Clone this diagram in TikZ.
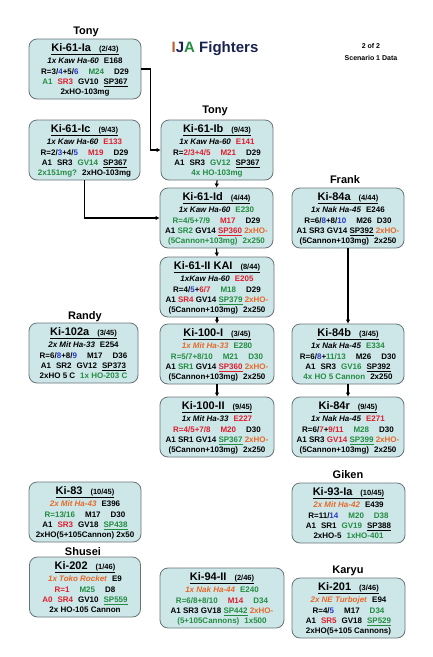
\documentclass[tikz,border=0pt]{standalone}
\usepackage{fontspec}
\setmainfont{Liberation Sans}
\usetikzlibrary{arrows.meta}
\definecolor{boxfill}{RGB}{205,231,233}
\definecolor{boxline}{RGB}{105,115,118}
\definecolor{kred}{RGB}{222,30,45}
\definecolor{kgreen}{RGB}{35,140,65}
\definecolor{kblue}{RGB}{40,55,200}
\definecolor{korange}{RGB}{230,105,40}
\definecolor{knavy}{RGB}{25,35,80}
\definecolor{kbrown}{RGB}{190,95,40}
\newcommand\tred[1]{\textcolor{kred}{#1}}
\newcommand\tgreen[1]{\textcolor{kgreen}{#1}}
\newcommand\tblue[1]{\textcolor{kblue}{#1}}
\newcommand\torange[1]{\textcolor{korange}{#1}}
\newcommand\uln[1]{\underline{#1}}
\newcommand\gp{\hspace{5pt}}
\newcommand\ktl[2]{\uln{#1\hspace{8pt}{\fontsize{7.5}{7.5}\selectfont #2}}}
\tikzset{
  kbox/.style={draw=boxline,fill=boxfill,rounded corners=8pt,line width=0.8pt,minimum height=60pt,inner sep=0pt},
  ktitle/.style={font=\fontsize{11}{11}\selectfont\bfseries,anchor=base,inner sep=0pt},
  kline/.style={font=\fontsize{8}{8}\selectfont\bfseries,anchor=base,inner sep=0pt},
  pilot/.style={font=\fontsize{11}{11}\selectfont\bfseries,anchor=base,inner sep=0pt},
  karrow/.style={draw=black,line width=1.2pt,-{Latex[length=4pt,width=4.5pt]}},
}
\newcommand\kibox[9]{%
  \node[kbox,minimum width=#4pt] (#1) at (#2,#3+30) {};
  \node[ktitle] (#1-t) at (#2,#3+12.6) {#5};
  \node[kline] (#1-a) at (#2,#3+24.6) {#6};
  \node[kline] (#1-b) at (#2,#3+35) {#7};
  \node[kline] (#1-c) at (#2,#3+45.3) {#8};
  \node[kline] (#1-d) at (#2,#3+55) {#9};
}
\begin{document}
\begin{tikzpicture}[x=1pt,y=-1pt]
\useasboundingbox (0,0) rectangle (432,657);

% headings
\node[font=\fontsize{15}{15}\selectfont\bfseries,anchor=base,inner sep=0pt] (head) at (215,52.5)
  {\textcolor{kbrown}{I}\textcolor{knavy}{J}\textcolor{kgreen}{A}\ \textcolor{knavy}{Fighters}};
\node[font=\fontsize{7}{7}\selectfont\bfseries,anchor=base,inner sep=0pt] (page) at (371,48) {2 of 2};
\node[font=\fontsize{7}{7}\selectfont\bfseries,anchor=base,inner sep=0pt] (scen) at (371,60) {Scenario 1 Data};

% pilots
\node[pilot] (p1) at (86,34) {Tony};
\node[pilot] (p2) at (215,113) {Tony};
\node[pilot] (p3) at (85,319) {Randy};
\node[pilot] (p4) at (345,183) {Frank};
\node[pilot] (p5) at (83,555) {Shusei};
\node[pilot] (p6) at (348,478) {Giken};
\node[pilot] (p7) at (348,573) {Karyu};

% boxes
\kibox{ki61ia}{85}{39}{112}{\ktl{Ki-61-Ia}{(2/43)}}
  {\textit{1x Kaw Ha-60}\gp E168}
  {R=3/\tblue{4}+5/\tblue{6}\gp\gp\tgreen{M24}\gp\gp D29}
  {\tgreen{A1}\gp\tred{SR3}\gp GV10\gp\uln{SP367}}
  {2xHO-103mg}

\kibox{ki61ic}{84.5}{120}{111}{\ktl{Ki-61-Ic}{(9/43)}}
  {\textit{1x Kaw Ha-60}\gp\tred{E133}}
  {R=2/\tblue{3}+4/\tblue{5}\gp\gp\tred{M19}\gp\gp D29}
  {A1\gp SR3\gp\tgreen{GV14}\gp\uln{SP367}}
  {\tgreen{2x151mg?}\gp 2xHO-103mg}

\kibox{ki61ib}{217}{120}{112}{\ktl{Ki-61-Ib}{(9/43)}}
  {\textit{1x Kaw Ha-60}\gp\tred{E141}}
  {R=\tred{2/3+4/5}\gp\gp\tred{M21}\gp\gp D29}
  {A1\gp SR3\gp\tgreen{GV12}\gp\uln{SP367}}
  {\tgreen{4x HO-103mg}}

\kibox{ki61id}{216.5}{188}{113}{\ktl{Ki-61-Id}{(4/44)}}
  {\textit{1x Kaw Ha-60}\gp\tgreen{E230}}
  {\tgreen{R=4/5+7/9}\gp\gp\tred{M17}\gp\gp D29}
  {A1 \tgreen{SR2} GV14 \tred{\uln{SP360}} \torange{2xHO-}}
  {\tgreen{(5Cannon+103mg)\gp 2x250}}

\kibox{ki61ii}{217}{257}{114}{\ktl{Ki-61-II KAI}{(8/44)}}
  {\textit{1xKaw Ha-60}\gp\tred{E205}}
  {R=4/\tblue{5}+\tred{6/7}\gp\gp\tgreen{M18}\gp\gp D29}
  {A1 \tred{SR4} GV14 \tgreen{\uln{SP379}} \torange{2xHO-}}
  {(5Cannon+103mg)\gp 2x250}

\kibox{ki100i}{217}{324}{114}{\ktl{Ki-100-I}{(3/45)}}
  {\torange{\textit{1x Mit Ha-33}}\gp\tgreen{E280}}
  {\tgreen{R=5/7+8/10\gp\gp M21\gp\gp D30}}
  {A1 \tgreen{SR1} GV14 \tred{\uln{SP360}} \torange{2xHO-}}
  {(5Cannon+103mg)\gp 2x250}

\kibox{ki100ii}{217}{397}{114}{\ktl{Ki-100-II}{(9/45)}}
  {\textit{1x Mit Ha-33}\gp\tred{E227}}
  {\tred{R=4/5+7/8\gp\gp M20}\gp\gp D30}
  {A1 SR1 GV14 \tgreen{\uln{SP367}} \torange{2xHO-}}
  {(5Cannon+103mg)\gp 2x250}

\kibox{ki102a}{83.5}{323}{109}{\ktl{Ki-102a}{(3/45)}}
  {\textit{2x Mit Ha-33}\gp E254}
  {R=6/\tblue{8}+8/\tblue{9}\gp\gp M17\gp\gp D36}
  {A1\gp SR2\gp GV12\gp\uln{SP373}}
  {2xHO 5 C\gp\tgreen{1x HO-203 C}}

\kibox{ki84a}{348}{188}{112}{\ktl{Ki-84a}{(4/44)}}
  {\textit{1x Nak Ha-45}\gp E246}
  {R=6/\tblue{8}+8/\tblue{10}\gp\gp M26\gp D30}
  {A1 SR3 GV14 \uln{SP392} \torange{2xHO-}}
  {(5Cannon+103mg)\gp 2x250}

\kibox{ki84b}{348}{324}{112}{\ktl{Ki-84b}{(3/45)}}
  {\textit{1x Nak Ha-45}\gp\tgreen{E334}}
  {R=6/\tblue{8}+\tgreen{11/13}\gp\gp M26\gp\gp D30}
  {A1\gp SR3\gp\tgreen{GV16}\gp\uln{SP392}}
  {\tgreen{4x HO 5 Cannon}\gp 2x250}

\kibox{ki84r}{348}{397}{112}{\ktl{Ki-84r}{(9/45)}}
  {\textit{1x Nak Ha-45}\gp\tred{E271}}
  {R=6/\tred{7}+\tred{9/11}\gp\gp\tgreen{M28}\gp\gp D30}
  {A1 SR3 \tred{GV14} \tgreen{\uln{SP399}} \torange{2xHO-}}
  {(5Cannon+103mg)\gp 2x250}

\kibox{ki83}{85}{482}{112}{\ktl{Ki-83}{(10/45)}}
  {\torange{\textit{2x Mit Ha-43}}\gp E396}
  {\tgreen{R=13/16}\gp\gp M17\gp\gp D30}
  {A1\gp\tred{SR3}\gp GV18\gp\tgreen{\uln{SP438}}}
  {2xHO(5+105Cannon) 2x50}

\kibox{ki202}{85}{557}{111}{\ktl{Ki-202}{(1/46)}}
  {\torange{\textit{1x Toko Rocket}}\gp E9}
  {\tred{R=1}\gp\gp\tgreen{M25}\gp\gp D8}
  {\tred{A0}\gp\tred{SR4}\gp GV10\gp\tgreen{\uln{SP559}}}
  {2x HO-105 Cannon}

\kibox{ki94}{222}{568}{124}{\ktl{Ki-94-II}{(2/46)}}
  {\torange{\textit{1x Nak Ha-44}}\gp\tgreen{E240}}
  {\tgreen{R=6/8+8/10}\gp\gp\tred{M14}\gp\gp\tgreen{D34}}
  {A1 SR3 GV18 \tgreen{\uln{SP442}} \torange{2xHO-}}
  {\tgreen{(5+105Cannons)\gp 1x500}}

\kibox{ki93}{348.5}{483}{113}{\ktl{Ki-93-Ia}{(10/45)}}
  {\torange{\textit{2x Mit Ha-42}}\gp E439}
  {R=11/\tblue{14}\gp\gp\tgreen{M20}\gp\gp\tgreen{D38}}
  {A1\gp SR1\gp\tgreen{GV19}\gp\uln{SP388}}
  {2xHO-5\gp\tgreen{1xHO-401}}

\kibox{ki201}{348.5}{578}{113}{\ktl{Ki-201}{(3/46)}}
  {\torange{\textit{2x NE Turbojet}}\gp E94}
  {R=4/\tblue{5}\gp\gp M17\gp\gp\tgreen{D34}}
  {A1\gp\tred{SR5}\gp GV18\gp\tgreen{\uln{SP529}}}
  {2xHO(5+105 Cannons)}

% connectors
\draw[karrow] (ki61ia.east) -- ++(9,0) |- (ki61ib.west);
\draw[karrow] (ki61ic.south) |- (ki61id.west);
\draw[karrow] (ki61ib.south) -- (ki61id.north);
\draw[karrow] (ki61id.south) -- (ki61ii.north);
\draw[karrow] (ki61ii.south) -- (ki100i.north);
\draw[karrow] (ki100i.south) -- (ki100ii.north);
\draw[karrow] (ki84a.south) -- (ki84b.north);
\draw[karrow] (ki84b.south) -- (ki84r.north);
\end{tikzpicture}
\end{document}
